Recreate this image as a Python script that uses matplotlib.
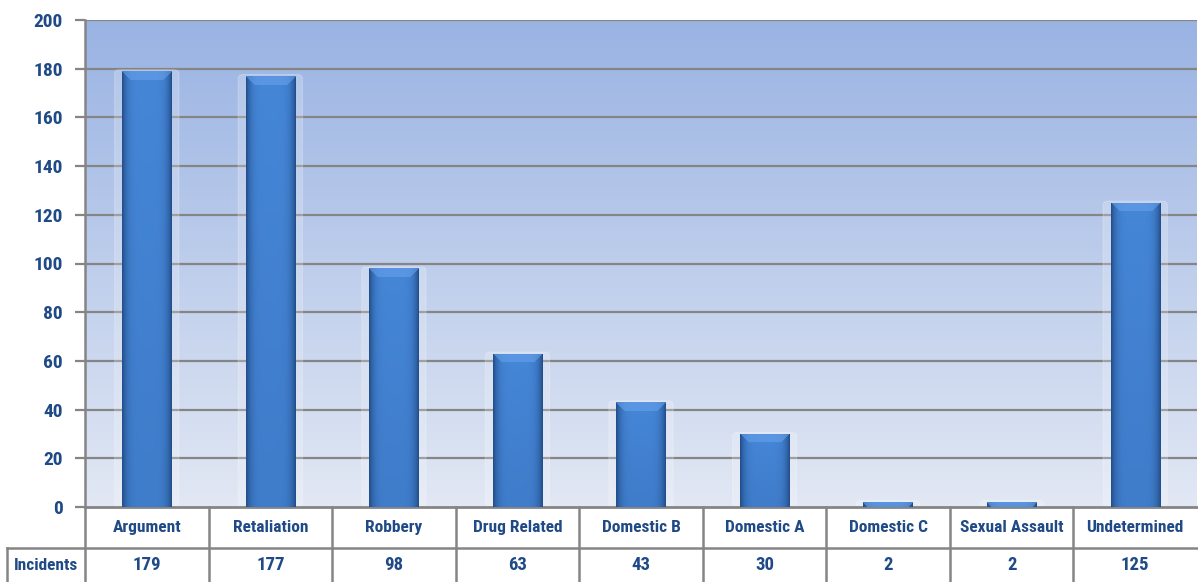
import numpy as np
import matplotlib
matplotlib.use("Agg")
import matplotlib.pyplot as plt
from matplotlib.patches import FancyBboxPatch
from matplotlib.transforms import blended_transform_factory
from matplotlib.colors import to_rgb
from matplotlib import font_manager

categories = ["Argument", "Retaliation", "Robbery", "Drug Related", "Domestic B",
              "Domestic A", "Domestic C", "Sexual Assault", "Undetermined"]
incidents = [179, 177, 98, 63, 43, 30, 2, 2, 125]
row_label = "Incidents"
y_ticks = [0, 20, 40, 60, 80, 100, 120, 140, 160, 180, 200]

W, H = 1198, 582
fig = plt.figure(figsize=(W / 100, H / 100), dpi=100)
fig.patch.set_facecolor("white")

def fy(py):
    return 1 - py / H

def fx(px):
    return px / W

ax_left, ax_right, ax_top, ax_bot = 85, 1197, 20, 507
ax = fig.add_axes([fx(ax_left), fy(ax_bot), fx(ax_right - ax_left), (ax_bot - ax_top) / H])

txt_color = "#1F4A86"
names = {f.name for f in font_manager.fontManager.ttflist}
condensed = "Roboto Condensed" in names
family = "Roboto Condensed" if condensed else "Roboto"
font = dict(family=family, weight="bold")
grid_color = "#858585"

n = len(categories)
x = np.arange(n)
ax.set_xlim(-0.5, n - 0.5)
ax.set_ylim(0, 200)

# background gradient of the plot area
top_c = np.array(to_rgb("#99B3E3"))
bot_c = np.array(to_rgb("#E2E8F4"))
t = np.linspace(0, 1, 256)[:, None]
bg = (top_c * (1 - t) + bot_c * t)[:, None, :]
ax.imshow(bg, extent=[0, 1, 0, 1], transform=ax.transAxes, aspect="auto", zorder=0)

# grid lines
for v in y_ticks[1:]:
    ax.axhline(v, color=grid_color, lw=1.6, zorder=1)

bar_w = 0.4
bars = ax.bar(x, incidents, width=bar_w, color="#3B78C8", zorder=3, linewidth=0)

# shaded bar fill: darker edges, lighter centre, darker toward the base, bevelled top
edge_dark = np.array(to_rgb("#234F8C"))
mid_light = np.array(to_rgb("#4586D7"))
base_dark = np.array(to_rgb("#2E60A4"))
bevel_c = np.array(to_rgb("#6AA3EC"))
px_per_unit = (ax_bot - ax_top) / 200
col_w_px = (ax_right - ax_left) / n
for b, v in zip(bars, incidents):
    x0 = b.get_x()
    w = b.get_width()
    h = b.get_height()
    wpx = max(2, int(round(w * col_w_px)))
    hpx = max(1, int(round(h * px_per_unit)))
    cx = np.linspace(-1, 1, wpx)
    prof = (np.abs(cx) ** 5)[None, :, None]
    vy = np.linspace(0, 1, hpx)[:, None, None]
    base = mid_light * (1 - 0.25 * vy) + base_dark * 0.25 * vy
    img = base * (1 - prof) + edge_dark * prof
    bevel_px = min(9, hpx)
    for r in range(bevel_px):
        lo, hi = r, wpx - r
        if hi > lo:
            img[r, lo:hi] = img[r, lo:hi] * 0.45 + bevel_c * 0.55
    if hpx > 4:
        glow = FancyBboxPatch((x0 - 0.06, 0), w + 0.12, h + 0.6,
                              boxstyle="round,pad=0,rounding_size=0.04",
                              facecolor="white", alpha=0.22, edgecolor="white",
                              linewidth=0.8, zorder=2, mutation_aspect=40)
        ax.add_patch(glow)
    im = ax.imshow(img, extent=[x0, x0 + w, 0, h], aspect="auto", zorder=4,
                   interpolation="bilinear")
    im.set_clip_path(b)

# axes styling
for s in ["top", "right"]:
    ax.spines[s].set_visible(False)
ax.spines["left"].set_color(grid_color)
ax.spines["left"].set_linewidth(1.8)
ax.spines["bottom"].set_color(grid_color)
ax.spines["bottom"].set_linewidth(2)
ax.set_yticks(y_ticks)
tick_size = 14 if condensed else 12.5
ax.set_yticklabels([str(v) for v in y_ticks], color=txt_color, fontsize=tick_size, **font)
ax.tick_params(axis="y", length=7, width=1.6, color=grid_color, pad=9)
ax.set_xticks([])

# data table below the plot
tr = blended_transform_factory(ax.transData, fig.transFigure)
y_top, y_mid, y_bot = fy(507), fy(548), fy(582)
for i in range(n):
    ax.plot([i - 0.5, i - 0.5], [y_top, y_bot], transform=tr, color=grid_color,
            lw=1.8, clip_on=False, zorder=5)
fig.add_artist(plt.Line2D([fx(7), fx(1198)], [y_mid, y_mid], color=grid_color, lw=1.8))
fig.add_artist(plt.Line2D([fx(7), fx(7)], [y_mid, y_bot], color=grid_color, lw=1.8))

tsize = 12.5 if condensed else 10.5
for i, (c, v) in enumerate(zip(categories, incidents)):
    ax.text(i, (y_top + y_mid) / 2, c, transform=tr, ha="center", va="center",
            color=txt_color, fontsize=tsize, **font)
    ax.text(i, (y_mid + y_bot) / 2, str(v), transform=tr, ha="center", va="center",
            color=txt_color, fontsize=tsize + 1, **font)
fig.text(fx(46), (y_mid + y_bot) / 2, row_label, ha="center", va="center",
         color=txt_color, fontsize=tsize, **font)

fig.savefig("out.png", dpi=100)
